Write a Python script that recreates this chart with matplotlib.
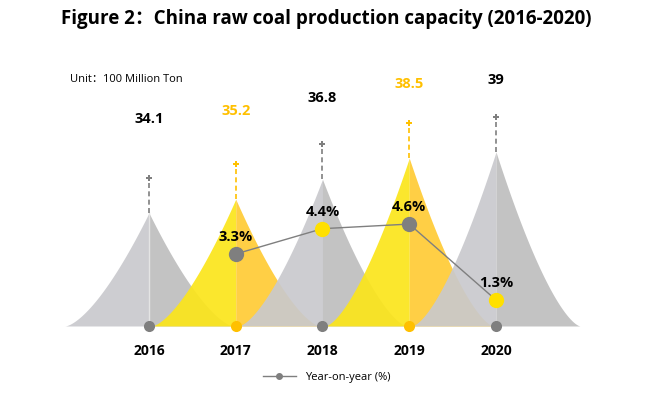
import numpy as np
import matplotlib
matplotlib.use("Agg")
import matplotlib.pyplot as plt
from matplotlib.lines import Line2D

plt.rcParams['font.family'] = ['Open Sans', 'Noto Sans CJK SC', 'DejaVu Sans']

years = ['2016', '2017', '2018', '2019', '2020']
capacity = [34.1, 35.2, 36.8, 38.5, 39]
growth_years = ['2017', '2018', '2019', '2020']
growth = [3.3, 4.4, 4.6, 1.3]

gray_l, gray_r = '#C9C9CD', '#BEBEBE'
yel_l, yel_r = '#FBE51B', '#FFCB35'
is_yellow = [False, True, False, True, False]

fig = plt.figure(figsize=(6.53, 3.95), dpi=100)
ax = fig.add_axes([0.082, 0.1747, 0.837, 0.724])
ymin = 25
ax.set_xlim(-1.1, 5.2)
ax.set_ylim(ymin, 48)

xs = np.arange(len(years))
hw = 0.97
t = np.linspace(0, 1, 200)
for i, (x, v) in enumerate(zip(xs, capacity)):
    h = v - ymin
    prof = ymin + h * (1 - t) ** 1.5
    cl, cr = (yel_l, yel_r) if is_yellow[i] else (gray_l, gray_r)
    ax.fill_between(x - t * hw, ymin, prof, color=cl, lw=0, alpha=0.92, zorder=2 + i)
    ax.fill_between(x + t * hw, ymin, prof, color=cr, lw=0, alpha=0.92, zorder=2 + i)
    if i == 0:
        ax.plot([x, x], [ymin, v], color='#E4E4E4', lw=1, zorder=2 + i)
    dc = '#FFC000' if is_yellow[i] else '#7F7F7F'
    ax.plot([x, x], [v, v + 2.8], color=dc, lw=1.2, ls=(0, (3, 2)), zorder=10)
    ax.plot(x, v + 2.8, marker='P', ms=4, color=dc, mew=0, zorder=10)
    ax.plot(x, ymin, marker='o', ms=8, color=dc, mew=0, zorder=11, clip_on=False)
    # labels sit higher for small bars, closer for tall ones
    ax.text(x, ymin + h * 0.65 + 10.7, f'{v:g}', ha='center', va='center', fontsize=10.5,
            fontweight='bold', color='#FFC000' if is_yellow[i] else 'black')

ax.set_xticks(xs)
ax.set_xticklabels(years, fontsize=10, fontweight='bold')
ax.tick_params(axis='x', length=0, pad=13)
ax.set_yticks([])
for s in ax.spines.values():
    s.set_visible(False)

ax2 = ax.twinx()
ax2.set_position(ax.get_position())
ax2.set_ylim(0.17, 12.6)
ax2.set_axis_off()
gx = [years.index(y) for y in growth_years]
ax2.plot(gx, growth, color='#7F7F7F', lw=1, zorder=20)
mcol = ['#7F7F7F', '#FFE000', '#7F7F7F', '#FFE000']
for x, g, c in zip(gx, growth, mcol):
    ax2.plot(x, g, marker='o', ms=11, color=c, mew=0, zorder=21)
    ax2.annotate(f'{g}%', (x, g), xytext=(0, 7), textcoords='offset points',
                 ha='center', va='bottom', fontsize=10.5, fontweight='bold', zorder=22)

fig.text(0.5, 0.953, 'Figure 2：China raw coal production capacity (2016-2020)',
         ha='center', va='center', fontsize=13.5, fontweight='bold')
fig.text(0.107, 0.8, 'Unit：100 Million Ton', ha='left', va='center', fontsize=8)

h = Line2D([], [], color='#7F7F7F', lw=1, marker='o', ms=4)
fig.legend([h], ['Year-on-year (%)'], loc='center', bbox_to_anchor=(0.5, 0.045),
           frameon=False, fontsize=8, handlelength=3)

fig.savefig('out.png', dpi=100)
